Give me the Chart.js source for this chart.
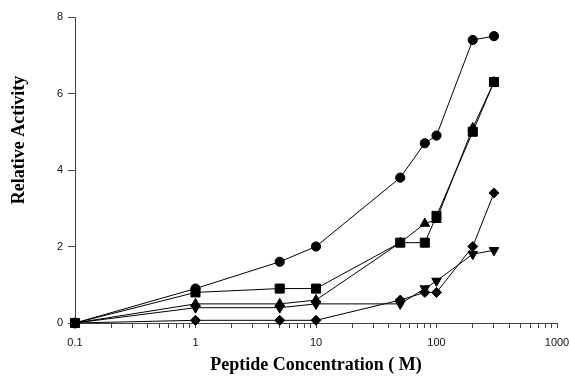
<!DOCTYPE html>
<html><head><meta charset="utf-8">
<script src="https://cdn.jsdelivr.net/npm/chart.js@4/dist/chart.umd.min.js"></script>
<style>html,body{margin:0;padding:0;background:#fff;} #wrap{width:570px;height:376px;position:relative;}</style>
</head><body><div id="wrap"><canvas id="c" width="570" height="376"></canvas></div>
<script>
const concentrations = [0.1, 1, 5, 10, 50, 80, 100, 200, 300];
const circleSeries   = [0, 0.9, 1.6, 2.0, 3.8, 4.7, 4.9, 7.4, 7.5];
const squareSeries   = [0, 0.8, 0.9, 0.9, 2.1, 2.1, 2.8, 5.0, 6.3];
const triUpSeries    = [0, 0.5, 0.5, 0.6, 2.1, 2.6, 2.7, 5.1, 6.3];
const triDownSeries  = [0, 0.4, 0.4, 0.5, 0.5, 0.9, 1.1, 1.8, 1.9];
const diamondSeries  = [0, 0.07, 0.07, 0.07, 0.6, 0.8, 0.8, 2.0, 3.4];
const xTickLabels = [0.1, 1, 10, 100, 1000];
const yTickLabels = [0, 2, 4, 6, 8];
const xTitle = 'Peptide Concentration ( M)';
const yTitle = 'Relative Activity';

const toPts = arr => concentrations.map((x, i) => ({x: x, y: arr[i]}));

// tick positions: majors from labels, minors 2..9 within each decade
const xTickValues = [];
xTickLabels.forEach((d, i) => {
  xTickValues.push({value: d, major: true});
  if (i < xTickLabels.length - 1) {
    for (let k = 2; k <= 9; k++) xTickValues.push({value: d * k, major: false});
  }
});

function ds(label, data, style, radius, rotation) {
  return {
    label, data: toPts(data),
    borderColor: '#000', backgroundColor: '#000',
    pointBackgroundColor: '#000', pointBorderColor: '#000',
    borderWidth: 1, pointBorderWidth: 1,
    pointStyle: style, pointRadius: radius, pointRotation: rotation || 0,
    tension: 0, clip: false, fill: false
  };
}

const yTitlePlugin = {
  id: 'yTitlePlugin',
  afterDraw(chart) {
    const ctx = chart.ctx;
    ctx.save();
    ctx.translate(19, 140);
    ctx.rotate(-Math.PI / 2);
    ctx.font = 'bold 18px "Liberation Serif", "Times New Roman", serif';
    ctx.fillStyle = '#000';
    ctx.textAlign = 'center';
    ctx.textBaseline = 'middle';
    ctx.fillText(yTitle, 0, 0);
    ctx.restore();
  }
};

const tickFont = {family: '"Liberation Sans", Arial, sans-serif', size: 11};

new Chart(document.getElementById('c'), {
  type: 'line',
  data: {
    datasets: [
      ds('Square', squareSeries, 'rect', 6.4),
      ds('Circle', circleSeries, 'circle', 4.6),
      ds('Triangle up', triUpSeries, 'triangle', 5.5),
      ds('Triangle down', triDownSeries, 'triangle', 5.5, 180),
      ds('Diamond', diamondSeries, 'rectRot', 5)
    ]
  },
  options: {
    responsive: false,
    animation: false,
    events: [],
    layout: {padding: {top: 17, right: 13, left: 0, bottom: 0}},
    plugins: {legend: {display: false}, tooltip: {enabled: false}},
    scales: {
      x: {
        type: 'logarithmic', min: 0.1, max: 1000,
        afterBuildTicks: s => { s.ticks = xTickValues.map(t => ({value: t.value, major: t.major})); },
        afterFit: s => { s.height = 53; s.paddingLeft = 0; s.paddingRight = 0; },
        ticks: {
          autoSkip: false, maxRotation: 0, minRotation: 0, padding: 8,
          font: tickFont, color: '#111',
          callback: (v) => xTickLabels.includes(v) ? String(v) : ''
        },
        grid: {drawOnChartArea: false, drawTicks: true, tickLength: 5, color: '#444', lineWidth: 1},
        border: {display: true, color: '#444', width: 1},
        title: {
          display: true, text: xTitle, color: '#000',
          font: {family: '"Liberation Serif", "Times New Roman", serif', size: 18, weight: 'bold'},
          padding: {top: 0, bottom: 0}
        }
      },
      y: {
        min: 0, max: 8,
        afterBuildTicks: s => { s.ticks = yTickLabels.map(v => ({value: v})); },
        afterFit: s => { s.width = 75; s.paddingTop = 0; s.paddingBottom = 0; },
        ticks: {padding: 5, font: tickFont, color: '#111'},
        grid: {drawOnChartArea: false, drawTicks: true, tickLength: 7, color: '#444', lineWidth: 1},
        border: {display: true, color: '#444', width: 1}
      }
    }
  },
  plugins: [yTitlePlugin]
});
</script>
</body></html>
